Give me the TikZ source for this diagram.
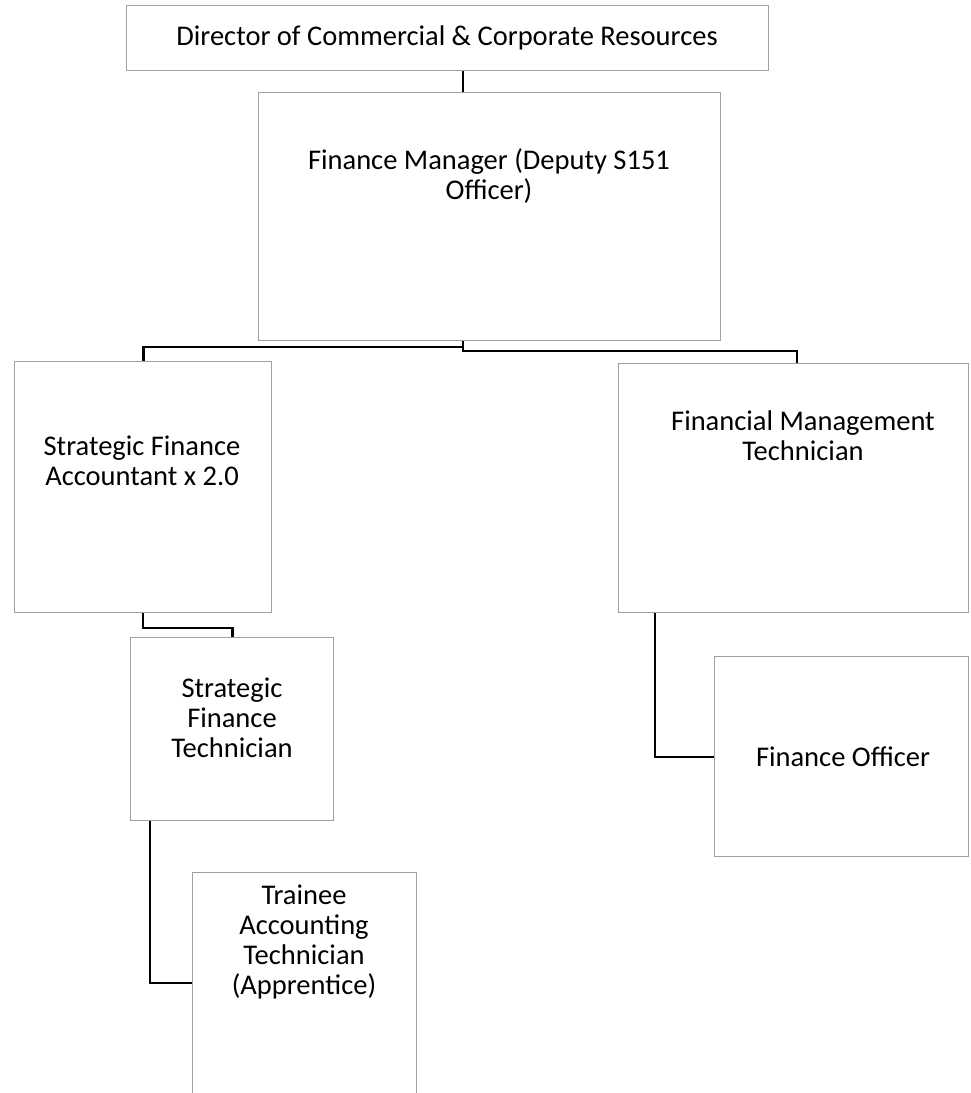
\documentclass[tikz,border=0pt]{standalone}
\usepackage{fontspec}
\setmainfont{Carlito}
\definecolor{boxgray}{HTML}{A0A0A0}
\begin{document}
\begin{tikzpicture}[x=1pt,y=-1pt,
  box/.style={draw=boxgray, line width=1.3pt, anchor=north west, inner sep=0pt, fill=white},
  lbl/.style={font=\fontsize{28.5}{30}\selectfont, align=center, inner sep=0pt},
  conn/.style={draw=black, line width=2.8pt, line join=miter}]
\clip (0,0) rectangle (970,1093);
\fill[white] (0,0) rectangle (970,1093);
% boxes
\node[box, minimum width=642pt, minimum height=65pt] (dir) at (126,5) {};
\node[box, minimum width=462pt, minimum height=248pt] (fm) at (258,92) {};
\node[box, minimum width=257pt, minimum height=251pt] (sfa) at (14,361) {};
\node[box, minimum width=350pt, minimum height=249pt] (fmt) at (618,363) {};
\node[box, minimum width=203pt, minimum height=183pt] (sft) at (130,637) {};
\node[box, minimum width=254pt, minimum height=200pt] (fo) at (714,656) {};
\node[box, minimum width=224pt, minimum height=260pt] (tat) at (192,872) {};
% labels
\node[lbl] (tdir) at (447,38) {Director of Commercial \& Corporate Resources};
\node[lbl] (tfm) at (489,176) {Finance Manager (Deputy S151\\Officer)};
\node[lbl] (tsfa) at (142,461) {Strategic Finance\\Accountant x 2.0};
\node[lbl] (tfmt) at (803,436) {Financial Management\\Technician};
\node[lbl] (tsft) at (232,718) {Strategic\\Finance\\Technician};
\node[lbl] (tfo) at (843,757) {Finance Officer};
\node[lbl] (ttat) at (304,942) {Trainee\\Accounting\\Technician\\(Apprentice)};
% junctions
\coordinate (j0) at (463,347);
\coordinate (j1) at (463,351);
\coordinate (jr) at (797,351);
\coordinate (j2) at (143,628);
\coordinate (j3) at (150,983);
\coordinate (j4) at (655,757);
% connectors
\draw[conn] (dir.south -| j0) -- (fm.north -| j0);
\draw[conn] (fm.south -| j0) -- (j0) -- (j0 -| sfa.north) -- (sfa.north);
\draw[conn] (fm.south -| j1) -- (j1) -- (jr) -- (fmt.north -| jr);
\draw[conn] (sfa.south -| j2) -- (j2) -- (j2 -| sft.north) -- (sft.north);
\draw[conn] (sft.south -| j3) -- (j3) -- (j3 -| tat.west);
\draw[conn] (fmt.south -| j4) -- (j4) -- (j4 -| fo.west);
\end{tikzpicture}
\end{document}
